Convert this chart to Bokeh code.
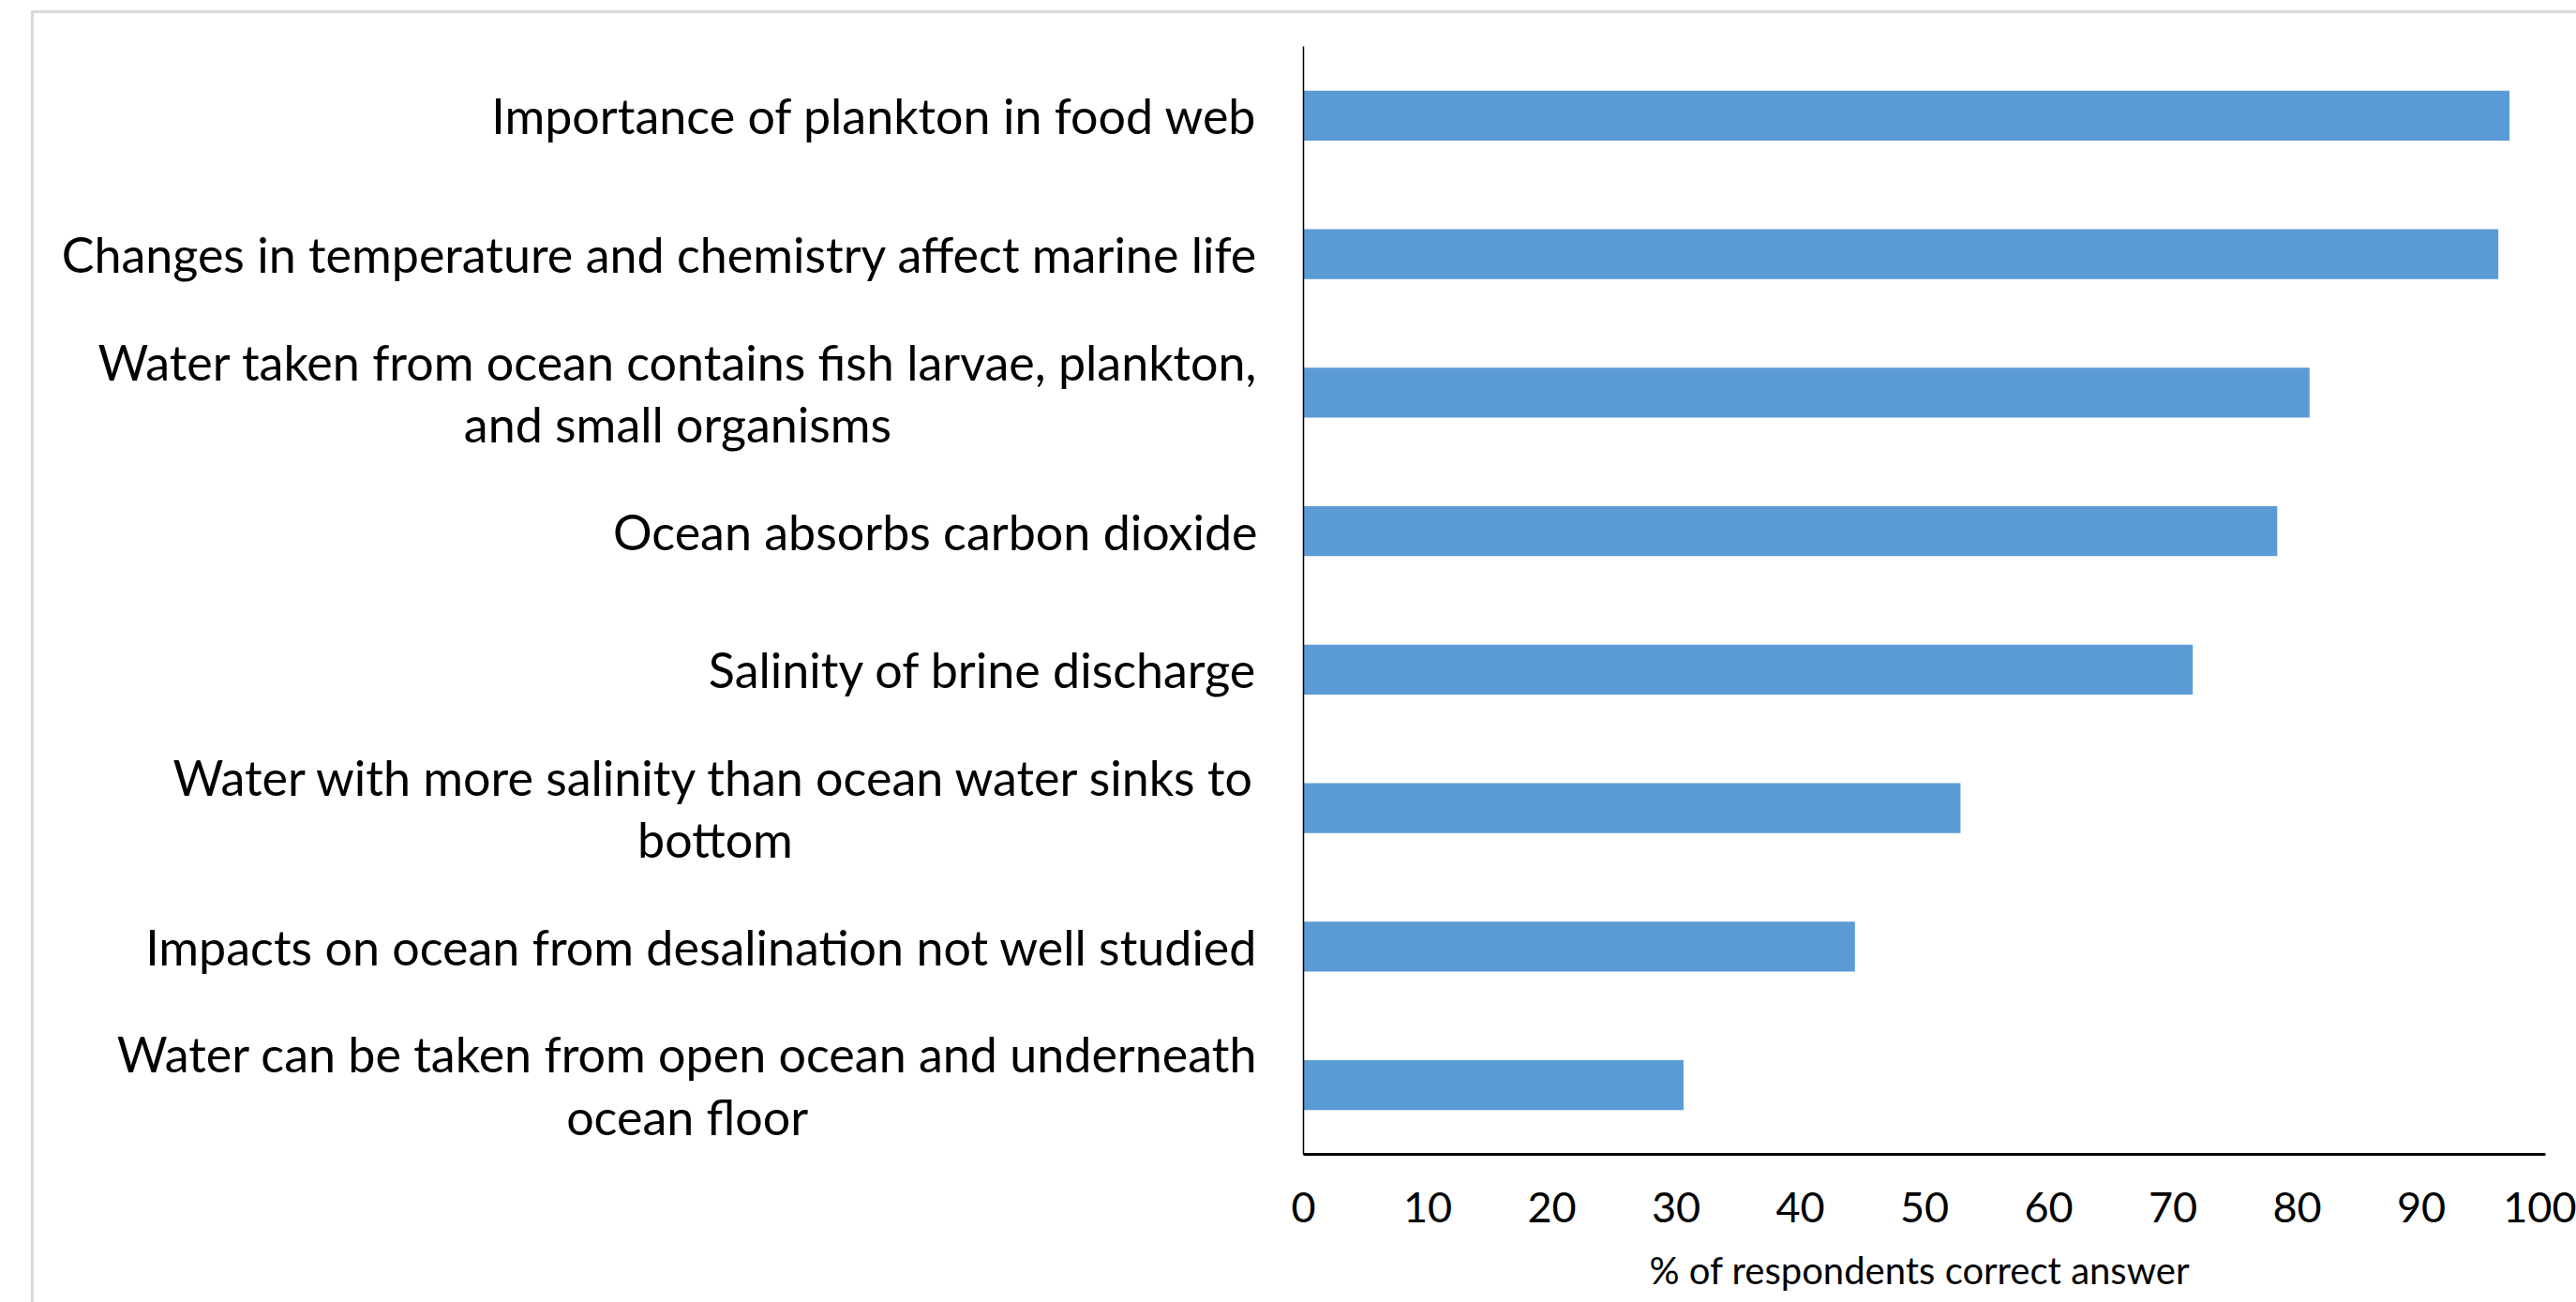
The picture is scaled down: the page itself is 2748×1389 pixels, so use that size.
from bokeh.plotting import figure
from bokeh.layouts import row
from bokeh.models import FactorRange, Range1d, ColumnDataSource, InlineStyleSheet
from bokeh.core.properties import value
from bokeh.embed import file_html
from bokeh.resources import INLINE

categories = [
    "Importance of plankton in food web",
    "Changes in temperature and chemistry affect marine life",
    "Water taken from ocean contains fish larvae, plankton,\nand small organisms",
    "Ocean absorbs carbon dioxide",
    "Salinity of brine discharge",
    "Water with more salinity than ocean water sinks to\nbottom",
    "Impacts on ocean from desalination not well studied",
    "Water can be taken from open ocean and underneath\nocean floor",
]
values = [97.1, 96.2, 81.0, 78.4, 71.6, 52.9, 44.4, 30.6]
x_ticks = [0, 10, 20, 30, 40, 50, 60, 70, 80, 90, 100]
x_title = "% of respondents  correct answer"

FONT = "Lato"
LEFT_W = 1350      # width of the label column
LABEL_RIGHT = 1341 # right edge of category labels (pixels)

src = ColumnDataSource(dict(cat=categories, val=values))
yr = FactorRange(factors=list(reversed(categories)))

# ---- label column (shares the categorical y range) ----
lab = figure(
    y_range=yr, x_range=Range1d(0, LEFT_W),
    frame_width=LEFT_W, frame_height=1182,
    min_border_left=0, min_border_right=0,
    min_border_top=49, min_border_bottom=158,
    x_axis_location=None, y_axis_location=None,
    output_backend="svg", toolbar_location=None,
)
lab.grid.visible = False
lab.outline_line_color = None
lab.text(x=LABEL_RIGHT, y="cat", text="cat", source=src,
         anchor=value("center_right"), text_align="center",
         text_baseline="middle", text_font=value(FONT),
         text_font_size="52px", text_color="black", text_line_height=1.07)

# ---- bar chart ----
p = figure(
    y_range=yr, x_range=Range1d(0, 100),
    frame_width=1325, frame_height=1182,
    min_border_left=1390 - LEFT_W, min_border_right=33,
    min_border_top=49, min_border_bottom=158,
    output_backend="svg", toolbar_location=None,
)
p.hbar(y="cat", right="val", left=0, height=0.36, source=src,
       fill_color="#5b9bd5", line_color=None)

p.grid.visible = False
p.outline_line_color = None
p.background_fill_color = "white"
p.border_fill_color = "white"

p.yaxis.axis_line_color = "black"
p.yaxis.axis_line_width = 1.5
p.yaxis.major_tick_line_color = None
p.yaxis.minor_tick_line_color = None
p.yaxis.major_label_text_alpha = 0
p.yaxis.major_label_text_font_size = "1px"
p.yaxis.major_label_standoff = 0

p.xaxis.ticker = x_ticks
p.xaxis.axis_line_color = "black"
p.xaxis.axis_line_width = 3
p.xaxis.major_tick_line_color = None
p.xaxis.minor_tick_line_color = None
p.xaxis.major_tick_out = 0
p.xaxis.major_label_text_font = FONT
p.xaxis.major_label_text_font_size = "45px"
p.xaxis.major_label_text_color = "black"
p.xaxis.major_label_standoff = 40
p.xaxis.axis_label = x_title
p.xaxis.axis_label_text_font = FONT
p.xaxis.axis_label_text_font_size = "40px"
p.xaxis.axis_label_text_font_style = "normal"
p.xaxis.axis_label_text_color = "black"
p.xaxis.axis_label_standoff = 24

border_css = InlineStyleSheet(css="""
:host { position: relative; }
:host::after {
  content: ""; position: absolute; left: 33px; top: 11px; right: 0; bottom: 0;
  border-top: 3px solid #d9d9d9; border-left: 3px solid #d9d9d9;
  pointer-events: none; z-index: 100;
}
""")

layout = row(lab, p, spacing=0, stylesheets=[border_css])

open("out.html", "w").write(file_html(layout, INLINE))
